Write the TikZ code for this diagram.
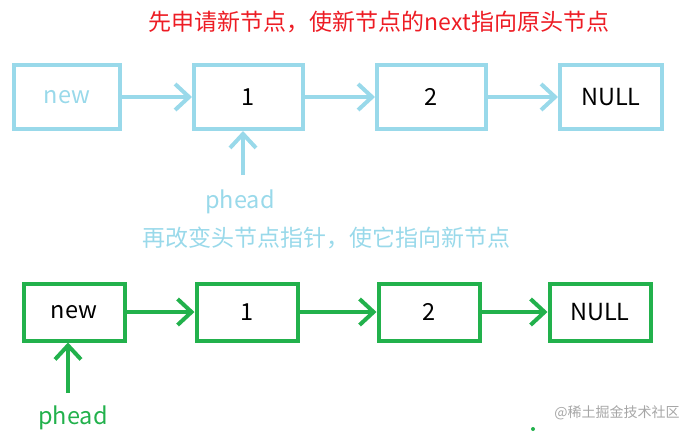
\documentclass[tikz,border=0pt]{standalone}
\usepackage{fontspec}
\setmainfont{Noto Sans CJK SC}
\usetikzlibrary{arrows.meta, positioning}
\definecolor{lblue}{HTML}{99D9EA}
\definecolor{pgreen}{HTML}{22B14C}
\definecolor{pred}{HTML}{ED1C24}

\begin{document}
\begin{tikzpicture}[x=1pt, y=-1pt,
  box/.style={rectangle, line width=4pt, text=black,
              font=\fontsize{23.5}{27}\selectfont},
  oldbox/.style={box, draw=lblue, minimum width=106pt, minimum height=64pt},
  newbox/.style={box, draw=pgreen, minimum width=101pt, minimum height=57pt},
  ar/.style={-{Straight Barb[length=14pt, width=26pt]}, line width=4pt},
  oldar/.style={ar, draw=lblue},
  newar/.style={ar, draw=pgreen},
  txt/.style={font=\fontsize{23}{27}\selectfont, inner sep=0pt}
]
  \useasboundingbox (0,0) rectangle (696,436);

  % step 1
  \node[txt, text=pred] (tip1) at (379,22) {先申请新节点，使新节点的next指向原头节点};
  \node[oldbox, text=lblue] (new1) at (67,97) {new};
  \node[oldbox, minimum width=109pt, right=70pt of new1] (one1)  {1};
  \node[oldbox, minimum width=109pt, right=70pt of one1] (two1)  {2};
  \node[oldbox, minimum width=102pt, right=70pt of two1] (null1) {NULL};
  \node[txt, text=lblue, font=\fontsize{23.5}{27}\selectfont] (ph1) at (240,202) {phead};
  \coordinate (ph1top) at (243,175);

  \draw[oldar] (new1) -- (one1); \draw[oldar] (one1) -- (two1); \draw[oldar] (two1) -- (null1);
  \draw[oldar] (ph1top) -- (ph1top |- one1.south);

  % step 2
  \node[txt, text=lblue] (tip2) at (326,238) {再改变头节点指针，使它指向新节点};
  \node[newbox] (new2) at (74,312) {new};
  \node[newbox, right=68pt of new2] (one2)  {1};
  \node[newbox, right=77pt of one2] (two2)  {2};
  \node[newbox, right=66pt of two2] (null2) {NULL};
  \node[txt, text=pgreen, font=\fontsize{23.5}{27}\selectfont] (ph2) at (73,418) {phead};
  \coordinate (ph2top) at (68,393);

  \draw[newar] (new2) -- (one2); \draw[newar] (one2) -- (two2); \draw[newar] (two2) -- (null2);
  \draw[newar] (ph2top) -- (ph2top |- new2.south);

  \node[font=\fontsize{14}{16}\selectfont, text=black!35, inner sep=0pt] (mark) at (617,413) {@稀土掘金技术社区};
  \fill[pgreen] (533,429) circle (2);
\end{tikzpicture}
\end{document}
